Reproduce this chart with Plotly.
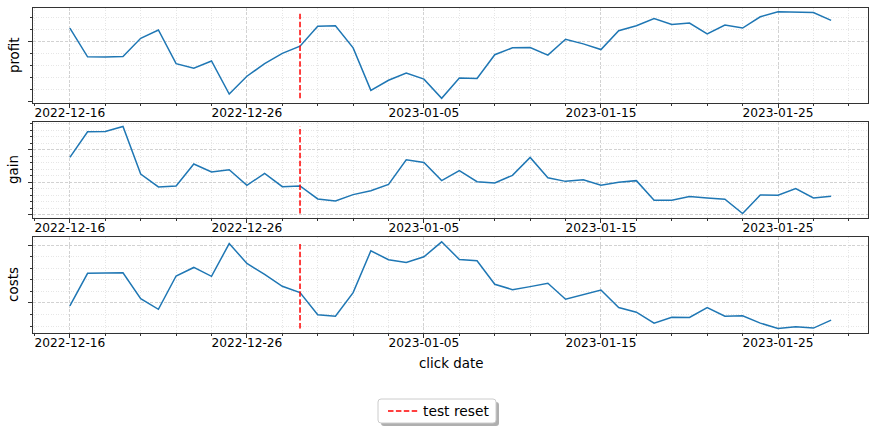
import pandas as pd
import plotly.graph_objects as go
from plotly.subplots import make_subplots

dates = pd.date_range("2022-12-16", "2023-01-28", freq="D")
profit = [61.2, 37.4, 37.2, 37.7, 52.7, 59.6, 31.7, 27.9, 33.9, 6.6, 21.3, 31.7, 40.2, 46.2,
          62.6, 63.1, 44.8, 9.6, 18.0, 24.0, 18.9, 3.0, 19.9, 19.4, 39.1, 44.8, 45.1, 38.8,
          51.9, 48.1, 43.4, 59.0, 63.1, 69.1, 64.2, 65.3, 56.3, 63.7, 61.2, 70.5, 74.6, 74.0,
          74.0, 67.5]
gain = [88.3, 127.6, 128.1, 135.7, 62.8, 42.9, 44.4, 78.1, 65.8, 69.4, 45.4, 63.8, 43.4, 44.4,
        24.5, 21.4, 31.1, 37.2, 46.9, 84.7, 80.6, 52.6, 67.9, 51.0, 49.0, 60.7, 88.3, 57.1,
        51.5, 54.1, 45.4, 50.0, 52.6, 22.4, 22.4, 28.1, 26.0, 24.0, 2.0, 30.6, 30.1, 40.3,
        26.0, 28.6]
costs = [47.4, 75.6, 75.9, 76.1, 53.7, 44.5, 73.3, 80.7, 73.0, 101.4, 84.2, 74.7, 64.4, 58.9,
         39.7, 38.5, 58.9, 95.1, 87.4, 85.1, 89.9, 102.9, 87.6, 86.5, 66.1, 61.5, 64.1, 67.0,
         53.2, 57.2, 61.2, 46.0, 42.0, 32.5, 37.6, 37.4, 46.0, 38.5, 38.8, 32.5, 27.9, 29.3,
         28.2, 35.1]
series_names = ["profit", "gain", "costs"]
series = [profit, gain, costs]
reset_date = "2022-12-29"
y_ranges = [[-0.6, 78.2], [-4.0, 142.2], [24.4, 106.8]]

FONT = "DejaVu Sans"
W, H = 876, 431
L, R, T, B = 33, 8, 7, 98
PW, PH = W - L - R, H - T - B


def px_x(x):
    return (x - L) / PW


def px_y(y):
    return (H - B - y) / PH


def rounded_rect(x0, y0, x1, y1, r):
    # pixel coords -> paper-coord SVG path with rounded corners
    rx, ry = r / PW, r / PH
    X0, X1 = px_x(x0), px_x(x1)
    Y0, Y1 = px_y(y1), px_y(y0)  # bottom, top in paper
    return (f"M{X0 + rx},{Y1} L{X1 - rx},{Y1} Q{X1},{Y1} {X1},{Y1 - ry} "
            f"L{X1},{Y0 + ry} Q{X1},{Y0} {X1 - rx},{Y0} L{X0 + rx},{Y0} "
            f"Q{X0},{Y0} {X0},{Y0 + ry} L{X0},{Y1 - ry} Q{X0},{Y1} {X0 + rx},{Y1} Z")


fig = make_subplots(rows=3, cols=1)

for i, (name, vals) in enumerate(zip(series_names, series)):
    r = i + 1
    fig.add_trace(go.Scatter(x=dates, y=vals, mode="lines",
                             line=dict(color="#1f77b4", width=1.5),
                             showlegend=False, hoverinfo="skip"), row=r, col=1)
    fig.add_trace(go.Scatter(x=[reset_date, reset_date], y=[min(vals), max(vals)],
                             mode="lines", name="test reset",
                             line=dict(color="#ff0000", width=1.5, dash="5.5px,2.4px"),
                             showlegend=(i == 0), hoverinfo="skip"), row=r, col=1)

domains = [[px_y(102.7), px_y(7.5)], [px_y(217.5), px_y(122.3)], [px_y(332.5), px_y(237.3)]]
domains = [[max(0, a), min(1, b)] for a, b in domains]
for i in range(3):
    r = i + 1
    fig.update_xaxes(row=r, col=1, automargin=False,
                     range=["2022-12-13 22:00", "2023-01-30 02:00"],
                     type="date", tick0="2022-12-16", dtick=864000000, tickformat="%Y-%m-%d",
                     ticks="outside", ticklen=4, tickwidth=1, tickcolor="#333",
                     ticklabelstandoff=-5,
                     showline=True, linecolor="#333", linewidth=1, mirror=True,
                     showgrid=True, gridcolor="#d2d2d2", griddash="3px,1.5px", gridwidth=0.8,
                     minor=dict(dtick=172800000, tick0="2022-12-16", ticks="outside", ticklen=2,
                                tickcolor="#333", showgrid=True, gridcolor="#e6e6e6",
                                griddash="1px,1.5px", gridwidth=0.6),
                     tickfont=dict(family=FONT, size=12.2, color="black"), zeroline=False)
    fig.update_yaxes(row=r, col=1, automargin=False, range=y_ranges[i], domain=domains[i],
                     tick0=0, dtick=50, showticklabels=False,
                     ticks="outside", ticklen=4, tickwidth=1, tickcolor="#333",
                     showline=True, linecolor="#333", linewidth=1, mirror=True,
                     showgrid=True, gridcolor="#d2d2d2", griddash="3px,1.5px", gridwidth=0.8,
                     minor=dict(dtick=10, ticks="outside", ticklen=2, tickcolor="#333",
                                showgrid=True, gridcolor="#e6e6e6", griddash="1px,1.5px",
                                gridwidth=0.6),
                     zeroline=False)
    fig.add_annotation(text=series_names[i], xref="paper", yref="paper",
                       x=px_x(14), y=(domains[i][0] + domains[i][1]) / 2,
                       xanchor="center", yanchor="middle", textangle=-90, showarrow=False,
                       font=dict(family=FONT, size=13.4, color="black"))

fig.add_annotation(text="click date", xref="paper", yref="paper", x=0.5, y=px_y(363),
                   xanchor="center", yanchor="middle", showarrow=False,
                   font=dict(family=FONT, size=13.4, color="black"))

# legend frame (rounded, with drop shadow) drawn behind a transparent legend
fig.add_shape(type="path", xref="paper", yref="paper", layer="above",
              path=rounded_rect(381, 402, 499, 426, 3),
              fillcolor="rgba(110,110,110,0.55)", line=dict(width=0))
fig.add_shape(type="path", xref="paper", yref="paper", layer="above",
              path=rounded_rect(378, 399, 496, 423, 3),
              fillcolor="white", line=dict(color="#cccccc", width=1))

fig.update_layout(
    width=W, height=H,
    margin=dict(l=L, r=R, t=T, b=B, autoexpand=False),
    paper_bgcolor="white", plot_bgcolor="white",
    font=dict(family=FONT, size=13, color="black"),
    legend=dict(xref="container", yref="container", x=383 / W, y=1 - 411 / H,
                xanchor="left", yanchor="middle",
                bgcolor="rgba(0,0,0,0)", borderwidth=0,
                font=dict(family=FONT, size=13.8, color="black"),
                itemwidth=30, tracegroupgap=0),
)
fig.write_html("out.html", config={"displayModeBar": False},
               post_script="document.body.style.margin='0';document.body.style.overflow='hidden';")
